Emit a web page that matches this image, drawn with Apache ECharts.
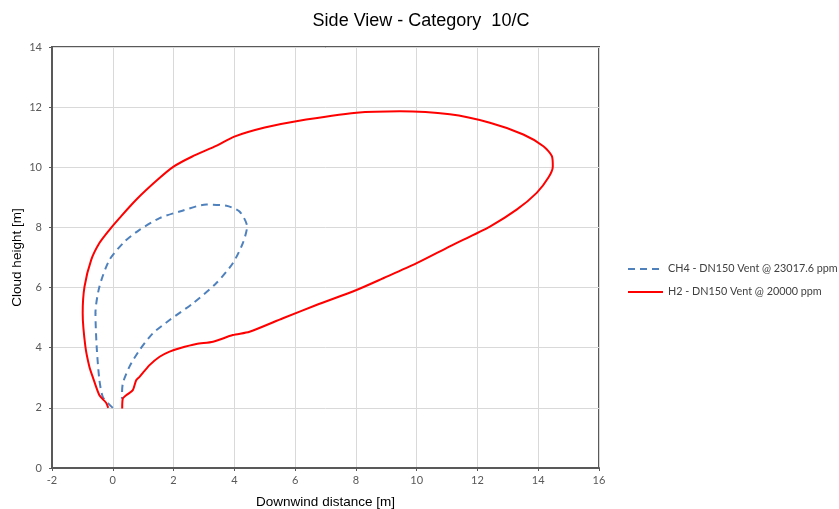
<!DOCTYPE html>
<html>
<head>
<meta charset="utf-8">
<script src="https://cdn.jsdelivr.net/npm/echarts@6/dist/echarts.min.js"></script>
<style>
  html, body { margin: 0; padding: 0; background: #fff; }
  #SideView { width: 839px; height: 509px; }
</style>
</head>
<body>
<div id="SideView"></div>
<script>
// CH4 cloud outline (downwind distance [m], cloud height [m])
const ch4Dist = [0, -0.15, -0.33, -0.44, -0.53, -0.57, -0.44, -0.11, 0.39, 0.88, 1.54, 2.2, 3.08, 3.74, 4.17, 4.42, 4.28, 3.95, 3.41, 2.64, 1.87, 1.32, 0.88, 0.55, 0.33, 0.3];
const ch4Height = [2.0, 2.15, 2.37, 2.92, 4.03, 5.15, 6.03, 6.92, 7.53, 7.92, 8.31, 8.53, 8.76, 8.72, 8.53, 8.03, 7.48, 6.81, 6.15, 5.48, 4.92, 4.48, 3.92, 3.37, 2.81, 2.3];

// H2 cloud outline
const h2Dist = [-0.15, -0.22, -0.44, -0.66, -0.77, -0.9, -0.99, -0.93, -0.71, -0.44, -0.11, 0.22, 0.77, 1.48, 2.0, 2.6, 3.42, 4.0, 5.0, 6.04, 8.02, 9.45, 11.09, 12.41, 13.51, 14.17, 14.45, 14.48, 14.33, 13.95, 13.29, 12.41, 11.09, 10.0, 8.9, 8.02, 6.7, 5.6, 4.5, 3.95, 3.3, 2.75, 2.2, 1.87, 1.54, 1.21, 0.88, 0.77, 0.66, 0.44, 0.33, 0.31];
const h2Height = [2.0, 2.17, 2.42, 3.03, 3.37, 4.03, 5.15, 6.03, 6.92, 7.48, 7.92, 8.31, 8.92, 9.59, 10.02, 10.35, 10.72, 11.02, 11.32, 11.53, 11.81, 11.86, 11.76, 11.48, 11.09, 10.7, 10.37, 10.03, 9.65, 9.15, 8.59, 8.03, 7.37, 6.81, 6.31, 5.92, 5.42, 4.98, 4.53, 4.42, 4.2, 4.12, 3.98, 3.87, 3.7, 3.42, 3.03, 2.92, 2.59, 2.42, 2.31, 1.98];

const seriesNames = ['CH4 - DN150 Vent @ 23017.6 ppm', 'H2 - DN150 Vent @ 20000 ppm'];

const zip = (xs, ys) => xs.map((x, i) => [x, ys[i]]);

const myChart = echarts.init(document.getElementById('SideView'));
const axisColor = '#595959';
const labelFont = { color: '#595959', fontSize: 11, fontFamily: 'Lato' };

const chartOption = {
    animation: false,
    title: {
        text: 'Side View - Category  10/C',
        left: 416,
        top: 7,
        textAlign: 'center',
        textStyle: { fontFamily: 'Liberation Sans', fontSize: 18, fontWeight: 'normal', color: '#000' },
    },
    legend: {
        orient: 'vertical',
        left: 627,
        top: 262,
        padding: 0,
        itemWidth: 35,
        itemHeight: 10,
        itemGap: 9,
        selectedMode: false,
        itemStyle: { opacity: 0 },
        textStyle: { color: '#404040', fontSize: 10.8, fontFamily: 'Lato', lineHeight: 14 },
        data: seriesNames,
    },
    grid: {
        left: 52,
        right: 240,
        top: 47,
        bottom: 41,
        outerBoundsMode: 'none',
        show: true,
        borderColor: axisColor,
        borderWidth: 2,
    },
    xAxis: {
        type: 'value',
        min: -2,
        max: 16,
        interval: 2,
        name: 'Downwind distance [m]',
        nameLocation: 'middle',
        nameGap: 27,
        nameMoveOverlap: false,
        nameTextStyle: { color: '#000', fontSize: 13.5, fontFamily: 'Liberation Sans' },
        axisLine: { onZero: false, lineStyle: { color: axisColor, width: 2 } },
        axisTick: { show: true, length: 3, lineStyle: { color: axisColor } },
        axisLabel: Object.assign({ margin: 7 }, labelFont),
        splitLine: { lineStyle: { color: '#d9d9d9', width: 1 } },
    },
    yAxis: {
        type: 'value',
        min: 0,
        max: 14,
        interval: 2,
        name: 'Cloud height [m]',
        nameLocation: 'middle',
        nameGap: 28,
        nameMoveOverlap: false,
        nameRotate: 90,
        nameTextStyle: { color: '#000', fontSize: 13.5, fontFamily: 'Liberation Sans' },
        axisLine: { onZero: false, lineStyle: { color: axisColor, width: 2 } },
        axisTick: { show: true, length: 3, lineStyle: { color: axisColor } },
        axisLabel: Object.assign({ margin: 10 }, labelFont),
        splitLine: { lineStyle: { color: '#d9d9d9', width: 1 } },
    },
    series: [
        {
            name: seriesNames[0],
            type: 'line',
            symbol: 'none',
            smooth: 0.25,
            color: '#4f81bd',
            lineStyle: { color: '#4f81bd', width: 2, type: [7, 5] },
            data: zip(ch4Dist, ch4Height),
        },
        {
            name: seriesNames[1],
            type: 'line',
            symbol: 'none',
            smooth: 0.25,
            color: '#ff0000',
            lineStyle: { color: '#ff0000', width: 2 },
            data: zip(h2Dist, h2Height),
        },
    ],
};
myChart.setOption(chartOption);
</script>
</body>
</html>
